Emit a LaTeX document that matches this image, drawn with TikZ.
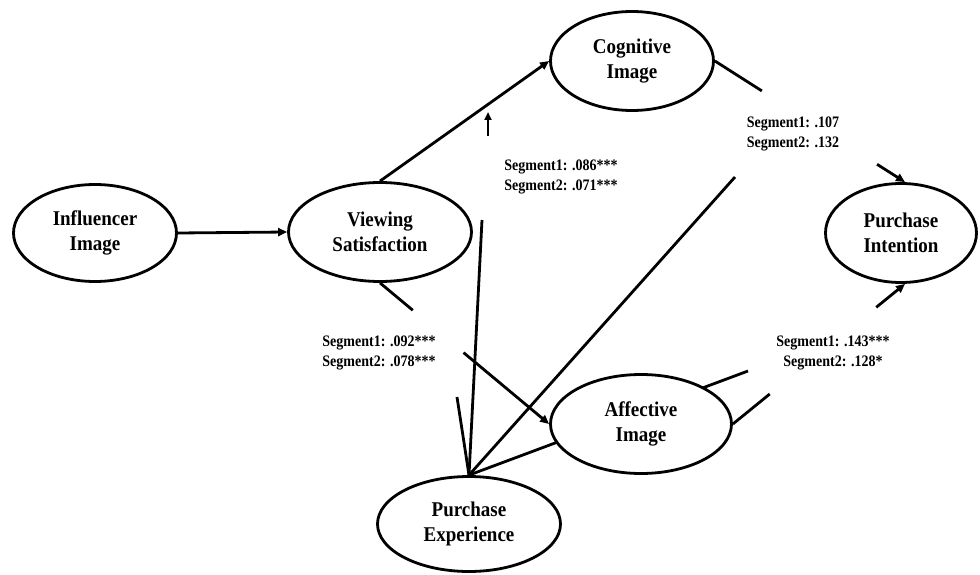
\documentclass[tikz,border=0pt]{standalone}
\usepackage{fontspec}
\setmainfont{Liberation Serif}
\newfontfamily\labelfont[FakeStretch=0.875]{Liberation Serif}
\newfontfamily\constructfont[FakeStretch=0.905]{Liberation Serif}
\usetikzlibrary{shapes.geometric,arrows.meta,calc,backgrounds}
\begin{document}
\begin{tikzpicture}[x=1pt,y=-1pt,
  construct/.style={ellipse,draw,line width=2.8pt,fill=white,inner sep=0pt,align=center,
    font=\constructfont\fontsize{21}{25}\selectfont\bfseries},
  conn/.style={line width=2.8pt},
  arr/.style={conn,-{Triangle[length=9pt,width=8pt]}},
  seglabel/.style={font=\labelfont\fontsize{16}{20}\selectfont\bfseries,inner sep=0pt}]
\useasboundingbox (0,0) rectangle (980,575);

\node[construct,minimum width=163pt,minimum height=97pt] (inf) at (95,233) {Influencer\\Image};
\node[construct,minimum width=183pt,minimum height=99pt] (vs) at (380,232) {Viewing\\Satisfaction};
\node[construct,minimum width=163pt,minimum height=99pt] (cog) at (632,61) {Cognitive\\Image};
\node[construct,minimum width=151pt,minimum height=99pt] (pi) at (901,233) {Purchase\\Intention};
\node[construct,minimum width=181pt,minimum height=99pt] (aff) at (641,424) {Affective\\Image};
\node[construct,minimum width=183pt,minimum height=95pt] (pe) at (469,524) {Purchase\\Experience};

% free ends of the moderation lines
\coordinate (m1) at (482,220);
\coordinate (m2) at (457,397);
\coordinate (m3) at (735,177);
\coordinate (m4) at (748,371);
\coordinate (a1) at (488,136);
\coordinate (a2) at (488,112);

\begin{pgfonlayer}{background}
\draw[arr] (inf.east) -- (vs.west);
\draw[arr] (vs.north) -- (cog.west);
% Viewing -> Affective (broken by label)
\draw[conn] (vs.south) -- ($(vs.south)!0.194!(aff.west)$);
\draw[arr] ($(vs.south)!0.494!(aff.west)$) -- (aff.west);
% Cognitive -> Purchase Intention
\draw[conn] (cog.east) -- ($(cog.east)!0.247!([xshift=4pt]pi.north)$);
\draw[arr] ($(cog.east)!0.853!([xshift=4pt]pi.north)$) -- ([xshift=4pt]pi.north);
% Affective -> Purchase Intention
\draw[conn] (aff.east) -- ($(aff.east)!0.214!([xshift=4pt]pi.south)$);
\draw[arr] ($(aff.east)!0.833!([xshift=4pt]pi.south)$) -- ([xshift=4pt]pi.south);
% moderation lines from Purchase Experience
\draw[conn] (pe.north) -- (m1);
\draw[conn] (pe.north) -- (m2);
\draw[conn] (pe.north) -- (m3);
\draw[conn] (pe.north) -- (m4);
\draw[conn,-{Triangle[length=8pt,width=7pt]}] (a1) -- (a2);
\end{pgfonlayer}

\node[seglabel,align=left] (l1) at (561,177) {Segment1: .086***\\Segment2: .071***};
\node[seglabel,align=left] (l2) at (793,134) {Segment1: .107\\Segment2: .132};
\node[seglabel,align=left] (l3) at (379,353) {Segment1: .092***\\Segment2: .078***};
\node[seglabel,align=center] (l4) at (833,353) {Segment1: .143***\\Segment2: .128*};
\end{tikzpicture}
\end{document}
